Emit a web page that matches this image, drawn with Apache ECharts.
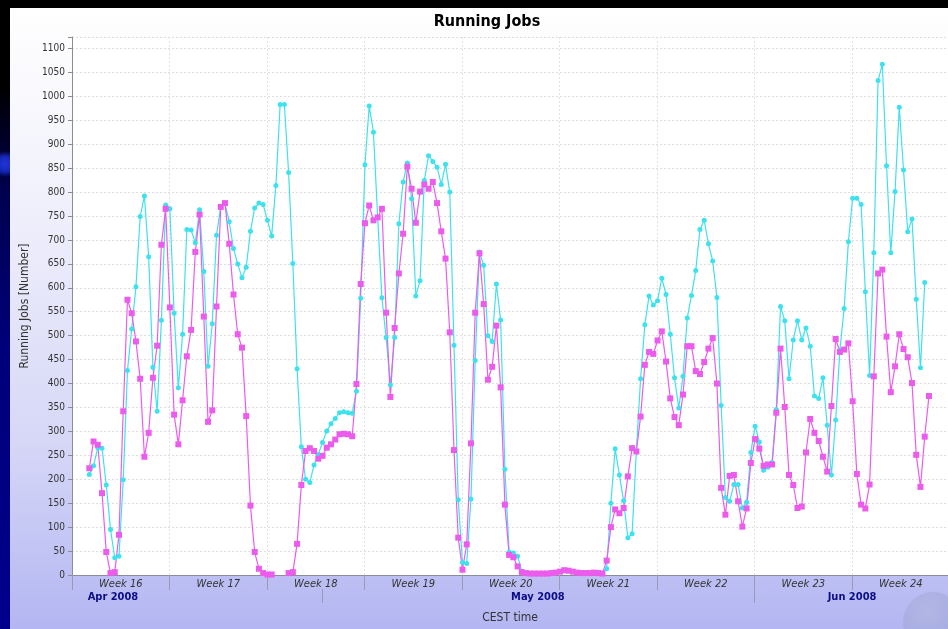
<!DOCTYPE html>
<html>
<head>
<meta charset="utf-8">
<script src="https://cdn.jsdelivr.net/npm/echarts@6/dist/echarts.min.js"></script>
<style>
html,body{margin:0;padding:0;width:948px;height:629px;overflow:hidden;}
body{
  background:
    radial-gradient(ellipse 16px 13px at 5px 164px, #2233d8 0%, #1628b8 55%, rgba(0,0,120,0) 100%),
    linear-gradient(to bottom,#000 0%,#000 14%,#00004e 30%,#00007a 55%,#00008c 100%);
}
#panel{position:absolute;left:10px;top:8px;width:938px;height:621px;
  background:linear-gradient(to bottom,#ffffff 0%,#f1f1fc 30%,#d6d7f7 70%,#b3b6f2 100%);}
#globe{position:absolute;left:903px;top:592px;width:60px;height:60px;border-radius:50%;
  background:radial-gradient(circle at 40% 35%, rgba(175,180,215,0.55) 0%, rgba(150,158,205,0.4) 50%, rgba(180,182,240,0) 71%);}
#chart{position:absolute;left:0;top:0;width:948px;height:629px;}
</style>
</head>
<body>
<div id="panel"></div>
<div id="globe"></div>
<div id="chart"></div>
<script>
// ---- data ----
// x unit: days since Sunday 13 Apr 2008 00:00 (start of "Week 16")
const firstSampleDay = 1.242;
const sampleStepDay = 0.30445;

const totalRunning = [
210,228,266,265,188,95,36,39,199,427,
514,602,749,792,665,434,342,532,773,765,
547,391,503,722,721,694,763,634,436,525,
710,770,775,738,682,650,621,643,718,767,
777,774,741,708,814,983,983,841,651,431,
268,200,193,230,252,277,301,316,327,339,
341,339,338,384,578,857,980,925,748,579,
496,397,496,734,821,861,786,583,615,824,
876,864,852,816,858,800,480,157,26,24,
159,448,675,647,500,488,608,533,221,48,
46,39,8,4,3,3,3,3,3,4,
5,7,10,9,7,5,4,4,4,5,
6,4,13,150,264,209,155,78,86,259,
410,523,583,564,573,620,586,503,412,349,
415,537,584,636,722,741,692,656,580,354,
162,154,189,189,140,152,256,311,278,219,
225,235,346,561,531,410,491,531,491,516,
478,374,369,412,313,209,324,470,557,696,
787,787,774,592,417,673,1033,1067,855,673,
801,977,846,717,744,576,433,611,null
];

const groupRunning = [
223,279,272,171,48,4,6,84,342,575,
547,488,410,247,297,412,479,690,765,559,
335,273,365,457,512,675,753,540,320,344,
561,769,777,692,586,503,475,332,145,48,
13,4,1,1,null,null,null,4,6,65,
188,259,265,259,243,249,266,273,283,294,
295,294,290,399,608,735,772,741,747,765,
548,372,516,630,713,853,807,736,801,816,
807,821,777,718,661,507,261,78,11,64,
275,548,672,566,408,435,521,392,147,42,
37,18,6,4,3,3,3,3,3,4,
5,7,10,9,7,5,4,4,4,5,
4,3,30,100,137,129,140,206,265,258,
331,439,466,462,490,509,446,369,330,313,
377,478,478,426,420,445,473,495,400,182,
126,207,209,154,101,139,234,284,264,228,
231,231,339,473,351,209,188,140,143,256,
326,297,280,247,216,353,493,466,471,484,
363,211,147,139,189,415,630,638,498,382,
436,503,472,455,401,251,184,289,374
];

const weekLabels = ['Week 16','Week 17','Week 18','Week 19','Week 20','Week 21','Week 22','Week 23','Week 24'];
const weekLabelDays = [3.5,10.5,17.5,24.5,31.5,38.5,45.5,52.5,59.5];
const monthLabels = ['Apr 2008','May 2008','Jun 2008'];
const monthLabelDays = [2.94,33.45,56.0];
const monthStartDays = [18,49];
const yTickValues = [0,50,100,150,200,250,300,350,400,450,500,550,600,650,700,750,800,850,900,950,1000,1050,1100];

// ---- build series data ----
function toPoints(arr){
  return arr.map((v,i)=>[firstSampleDay + i*sampleStepDay, v === null ? '-' : v]);
}
function nearestLabel(v, days, labels){
  let best = 0, bd = Infinity;
  days.forEach((d,i)=>{ const dd = Math.abs(d - v); if (dd < bd){ bd = dd; best = i; } });
  return labels[best];
}

const X_MIN = 0, X_MAX = 62.89;
const font = 'DejaVu Sans Condensed';

const chart = echarts.init(document.getElementById('chart'), null, {renderer:'canvas'});
chart.setOption({
  animation:false,
  backgroundColor:'transparent',
  graphic:[
    {type:'text', x:487, y:22, style:{text:'Running Jobs', font:'bold 16px "DejaVu Sans Condensed"', fill:'#000', align:'center', verticalAlign:'middle'}}
  ],
  grid:{left:72, right:0, top:37, bottom:51, show:true, backgroundColor:'#ffffff', borderWidth:0},
  xAxis:[
    {
      type:'value', min:X_MIN, max:X_MAX, interval:7, position:'bottom',
      axisLine:{show:true, lineStyle:{color:'#8c8c96', width:1}},
      axisTick:{show:true, length:15, lineStyle:{color:'#9a9ab4', width:1}},
      axisLabel:{customValues:weekLabelDays, formatter:v=>nearestLabel(v, weekLabelDays, weekLabels),
        fontFamily:font, fontStyle:'italic', fontSize:11, color:'#333', margin:4},
      splitLine:{show:true, lineStyle:{color:'#e2e2e2', type:[2,2], width:1}},
      name:'CEST time', nameLocation:'middle', nameGap:37,
      nameTextStyle:{fontFamily:font, fontSize:12, color:'#333'}
    },
    {
      type:'value', min:X_MIN, max:X_MAX, position:'bottom', offset:14,
      axisLine:{show:false},
      axisTick:{show:true, customValues:monthStartDays, length:14, lineStyle:{color:'#9a9ab4', width:1}},
      axisLabel:{customValues:monthLabelDays, formatter:v=>nearestLabel(v, monthLabelDays, monthLabels),
        fontFamily:font, fontWeight:'bold', fontSize:11, color:'#0c0c86', margin:3},
      splitLine:{show:false}
    }
  ],
  yAxis:{
    type:'value', min:0, max:1124, interval:50,
    axisLine:{show:true, lineStyle:{color:'#8c8c96', width:1}},
    axisTick:{show:true, length:4, lineStyle:{color:'#8c8c96'}},
    axisLabel:{customValues:yTickValues, formatter:v=>String(Math.round(v)),
      fontFamily:font, fontSize:10, color:'#333', margin:7},
    splitLine:{show:true, lineStyle:{color:'#dedede', type:[2,2], width:1}},
    name:'Running Jobs [Number]', nameLocation:'middle', nameGap:31, nameRotate:90,
    nameTextStyle:{fontFamily:font, fontSize:12, color:'#333'}
  },
  series:[
    {
      name:'Running jobs (all)', type:'line', xAxisIndex:0, data:toPoints(totalRunning),
      symbol:'circle', symbolSize:5, showAllSymbol:true, connectNulls:false,
      lineStyle:{color:'#3ee2ec', width:1.2}, itemStyle:{color:'#3ee2ec'}
    },
    {
      name:'Running jobs (group)', type:'line', xAxisIndex:0, data:toPoints(groupRunning),
      symbol:'rect', symbolSize:6, showAllSymbol:true, connectNulls:false,
      lineStyle:{color:'#ec5cec', width:1.2}, itemStyle:{color:'#ec5cec'}
    }
  ]
});
</script>
</body>
</html>
